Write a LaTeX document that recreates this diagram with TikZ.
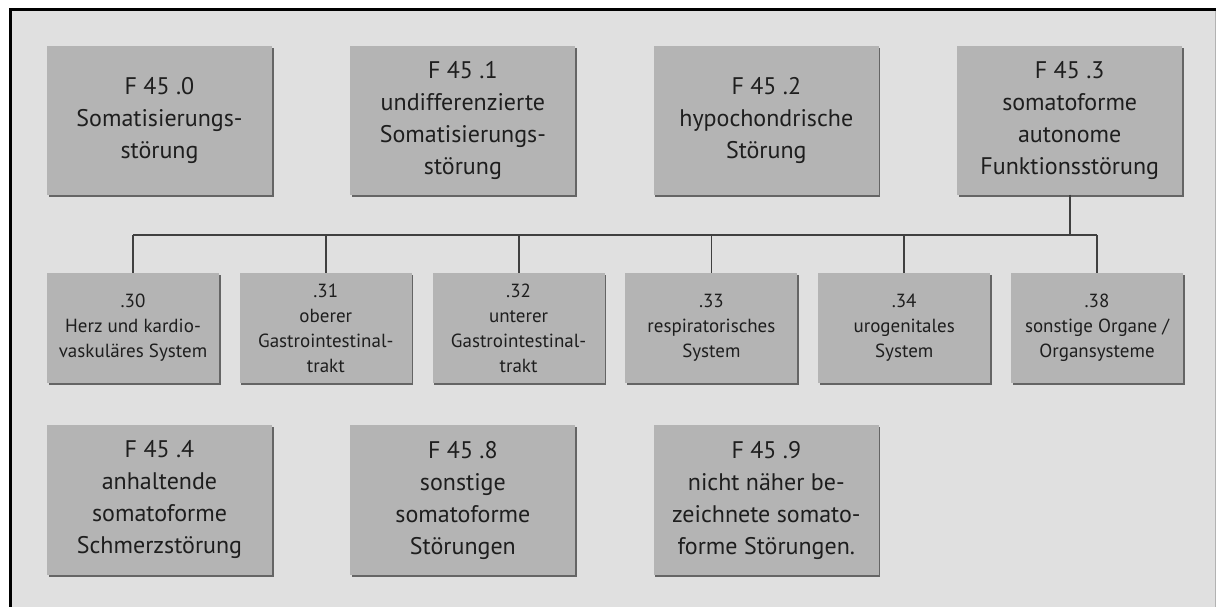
\documentclass[tikz,border=0pt]{standalone}
\usepackage{fontspec}
\setmainfont{PT Sans}
\usetikzlibrary{positioning,shadows}
\definecolor{bggray}{HTML}{E0E0E0}
\definecolor{boxgray}{HTML}{B4B4B4}
\definecolor{linegray}{HTML}{404040}
\definecolor{textgray}{HTML}{1E1E1E}
\begin{document}
\begin{tikzpicture}[x=1pt, y=-1pt, text=textgray,
  cat/.style={fill=boxgray, align=center, inner sep=0pt, minimum width=225pt, minimum height=148pt,
    font=\fontsize{24}{32}\selectfont,
    drop shadow={shadow xshift=1.6pt, shadow yshift=-2pt, fill=black, opacity=.55}},
  sub/.style={fill=boxgray, align=center, inner sep=0pt, minimum width=172pt, minimum height=110pt,
    font=\fontsize{19}{25}\selectfont,
    drop shadow={shadow xshift=1.6pt, shadow yshift=-2pt, fill=black, opacity=.55}},
  link/.style={draw=linegray, line width=1.8pt}]
\useasboundingbox (0,0) rectangle (1216,607);
\fill[white] (0,0) rectangle (1216,607);
\fill[bggray] (10,9.5) rectangle (1216,607);
\draw[line width=3pt] (10,607) -- (10,9.5) -- (1216,9.5);
\draw[black!30, line width=.8pt] (1215,11) -- (1215,607);
% top row
\node[cat] (f0) at (159.5,120.5) {F 45 .0\\Somatisierungs-\\störung};
\node[cat, right=78pt of f0] (f1) {F 45 .1\\undifferenzierte\\Somatisierungs-\\störung};
\node[cat, right=78pt of f1] (f2) {F 45 .2\\hypochondrische\\Störung};
\node[cat, right=78pt of f2] (f3) {F 45 .3\\somatoforme\\autonome\\Funktionsstörung};
% subgroups of F 45 .3
\node[sub] (s30) at (133,328) {.30\\Herz und kardio-\\vaskuläres System};
\node[sub, right=20.4pt of s30] (s31) {.31\\oberer\\Gastrointestinal-\\trakt};
\node[sub, right=20.4pt of s31] (s32) {.32\\unterer\\Gastrointestinal-\\trakt};
\node[sub, right=20.4pt of s32] (s33) {.33\\respiratorisches\\System};
\node[sub, right=20.4pt of s33] (s34) {.34\\urogenitales\\System};
\node[sub, right=20.4pt of s34] (s38) {.38\\sonstige Organe /\\Organsysteme};
% bottom row
\node[cat, minimum height=150pt] (f4) at (159.5,500) {F 45 .4\\anhaltende\\somatoforme\\Schmerzstörung};
\node[cat, minimum height=150pt, right=78pt of f4] (f8) {F 45 .8\\sonstige\\somatoforme\\Störungen};
\node[cat, minimum height=150pt, right=78pt of f8] (f9) {F 45 .9\\nicht näher be-\\zeichnete somato-\\forme Störungen.};
\coordinate (bus) at (0,235);
\draw[link] (f3.south) -- (f3.south |- bus);
\draw[link] (s30.north |- bus) -- (s38.north |- bus);
\foreach \n in {s30,s31,s32,s33,s34,s38} \draw[link] (\n.north |- bus) -- (\n.north);
\end{tikzpicture}
\end{document}
